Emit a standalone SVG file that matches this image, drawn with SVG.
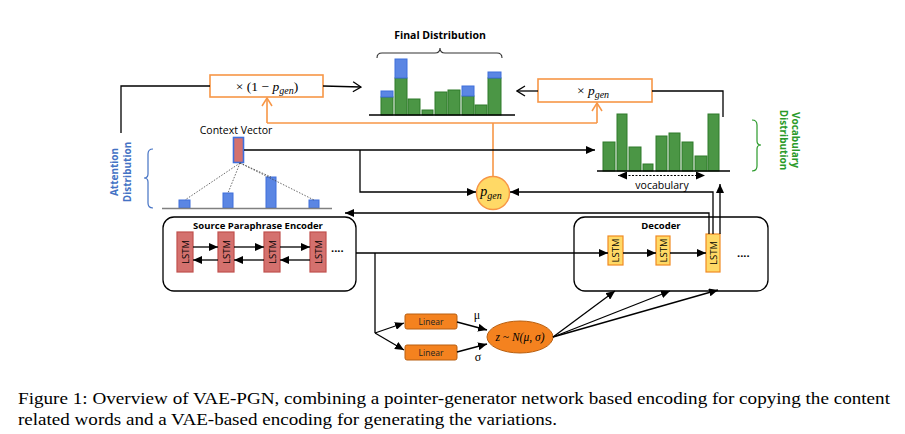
<svg xmlns="http://www.w3.org/2000/svg" width="905" height="434" viewBox="0 0 905 434">
<defs>
<marker id="tri" markerUnits="userSpaceOnUse" markerWidth="9" markerHeight="8" refX="9" refY="4" orient="auto-start-reverse"><path d="M0,0 L9,4 L0,8 z" fill="#000"/></marker>
<marker id="chev" markerUnits="userSpaceOnUse" markerWidth="10" markerHeight="12" refX="9" refY="6" orient="auto"><path d="M1,1 L9,6 L1,11" fill="none" stroke="#000" stroke-width="1.3"/></marker>
<marker id="chevo" markerUnits="userSpaceOnUse" markerWidth="10" markerHeight="12" refX="9" refY="6" orient="auto"><path d="M1,1 L9,6 L1,11" fill="none" stroke="#f79646" stroke-width="1.5"/></marker>
</defs>
<style>
.ln{fill:none;stroke:#000;stroke-width:1.3}
.or{fill:none;stroke:#f79646;stroke-width:1.6}
.g{fill:#4b9645;stroke:#2f7a2a;stroke-width:1}
.b{fill:#5b86e3;stroke:#3f6fdc;stroke-width:1}
.sans{font-family:"Open Sans","Liberation Sans",sans-serif}
.bold{font-weight:bold}
.math{font-family:"Liberation Serif","DejaVu Serif",serif}
.enc{fill:#d4716e;stroke:#c0504d;stroke-width:1.2}
.dec{fill:#ffd966;stroke:#f08a24;stroke-width:1.2}
.cell{font-family:"Open Sans","Liberation Sans",sans-serif;font-size:9.5px;fill:#000}
.lin{fill:#f4821f;stroke:#b85f10;stroke-width:1}
.box{fill:#fff;stroke:#000;stroke-width:1.3}
.obox{fill:#fff;stroke:#f79646;stroke-width:1.6}
</style>
<rect width="905" height="434" fill="#fff"/>

<g id="final-distribution">
  <text class="sans bold" x="440" y="39" font-size="10.5" text-anchor="middle">Final Distribution</text>
  <path d="M377,58 Q377,53 382,53 L435,53 Q440,53 440,48 Q440,53 445,53 L497,53 Q502,53 502,58" fill="none" stroke="#333" stroke-width="1.1"/>
  <rect class="g" x="381" y="97" width="12" height="18"/>
  <rect class="b" x="381" y="91" width="12" height="6"/>
  <rect class="g" x="395" y="78" width="12" height="37"/>
  <rect class="b" x="395" y="59" width="12" height="19"/>
  <rect class="g" x="408" y="99" width="12" height="16"/>
  <rect class="g" x="422" y="110" width="11" height="5"/>
  <rect class="g" x="435" y="92" width="12" height="23"/>
  <rect class="g" x="448" y="90" width="12" height="25"/>
  <rect class="g" x="462" y="96" width="12" height="19"/>
  <rect class="b" x="462" y="86" width="12" height="10"/>
  <rect class="g" x="475" y="105" width="12" height="10"/>
  <rect class="g" x="488" y="78" width="13" height="37"/>
  <rect class="b" x="488" y="72" width="13" height="6"/>
  <line x1="369" y1="115" x2="515" y2="115" stroke="#000" stroke-width="1.5"/>
</g>

<g id="times-one-minus-pgen">
  <rect class="obox" x="210" y="75" width="113" height="22"/>
  <text class="math" x="267" y="91" font-size="13.5" text-anchor="middle">× (1 − <tspan font-style="italic">p</tspan><tspan font-style="italic" font-size="10" dy="3">gen</tspan><tspan dy="-3">)</tspan></text>
</g>

<g id="times-pgen">
  <rect class="obox" x="538" y="79" width="114" height="23"/>
  <text class="math" x="593" y="95" font-size="13.5" text-anchor="middle">× <tspan font-style="italic">p</tspan><tspan font-style="italic" font-size="10" dy="3">gen</tspan></text>
</g>

<g id="context-vector">
  <text class="sans" x="236" y="134" font-size="10.5" text-anchor="middle">Context Vector</text>
  <rect x="233.5" y="137.5" width="10" height="25" fill="#d4716e" stroke="#3f6fdc" stroke-width="1.6"/>
</g>

<g id="attention-distribution">
  <rect class="b" x="179" y="200" width="11" height="8"/>
  <rect class="b" x="223" y="193" width="10" height="15"/>
  <rect class="b" x="266" y="177" width="10" height="31"/>
  <rect class="b" x="309" y="200" width="10" height="8"/>
  <line x1="162" y1="208.5" x2="332" y2="208.5" stroke="#808080" stroke-width="1.5"/>
  <path d="M153,149 Q148,149 148,154 L148,174 Q148,178 144,178 Q148,178 148,182 L148,203 Q148,208 153,208" fill="none" stroke="#4472c4" stroke-width="1.2"/>
  <text class="sans bold" transform="translate(118,172) rotate(-90)" font-size="10" fill="#4472c4" text-anchor="middle">Attention</text>
  <text class="sans bold" transform="translate(131,172) rotate(-90)" font-size="10" fill="#4472c4" text-anchor="middle">Distribution</text>
</g>

<g id="vocabulary-distribution">
  <rect class="g" x="603" y="142" width="12" height="29"/>
  <rect class="g" x="617" y="114" width="10" height="57"/>
  <rect class="g" x="629" y="147" width="12" height="24"/>
  <rect class="g" x="643" y="164" width="10" height="7"/>
  <rect class="g" x="656" y="136" width="11" height="35"/>
  <rect class="g" x="669" y="133" width="11" height="38"/>
  <rect class="g" x="682" y="142" width="11" height="29"/>
  <rect class="g" x="695" y="156" width="12" height="15"/>
  <rect class="g" x="708" y="114" width="11" height="57"/>
  <line x1="597" y1="171" x2="730" y2="171" stroke="#000" stroke-width="1.3"/>
  <path d="M618,175.5 L705,175.5" fill="none" stroke="#000" stroke-width="1" stroke-dasharray="2,1.5" marker-start="url(#tri)" marker-end="url(#tri)"/>
  <text class="sans" x="662" y="189" font-size="10.5" text-anchor="middle">vocabulary</text>
  <path d="M752,120 Q757,120 757,125 L757,141 Q757,145 761,145 Q757,145 757,149 L757,166 Q757,171 752,171" fill="none" stroke="#2a9a2a" stroke-width="1.2"/>
  <text class="sans bold" transform="translate(792,140) rotate(90)" font-size="10" fill="#2a9a2a" text-anchor="middle">Vocabulary</text>
  <text class="sans bold" transform="translate(780,140) rotate(90)" font-size="10" fill="#2a9a2a" text-anchor="middle">Distribution</text>
</g>

<g id="pgen">
  <circle cx="493" cy="193" r="16.5" fill="#ffd966" stroke="#f79646" stroke-width="1.5"/>
  <text class="math" x="491" y="196" font-size="14" text-anchor="middle" font-style="italic">p<tspan font-size="10" dy="3">gen</tspan></text>
</g>

<g id="encoder">
  <rect class="box" x="163" y="217" width="193" height="74" rx="11"/>
  <text class="sans bold" x="258" y="229" font-size="9.5" text-anchor="middle">Source Paraphrase Encoder</text>
  <rect class="enc" x="177" y="232" width="16" height="40"/>
  <rect class="enc" x="218" y="232" width="16" height="40"/>
  <rect class="enc" x="264" y="232" width="16" height="40"/>
  <rect class="enc" x="310" y="232" width="16" height="40"/>
  <text class="cell" transform="translate(185,252) rotate(-90)" text-anchor="middle" dominant-baseline="central">LSTM</text>
  <text class="cell" transform="translate(226,252) rotate(-90)" text-anchor="middle" dominant-baseline="central">LSTM</text>
  <text class="cell" transform="translate(272,252) rotate(-90)" text-anchor="middle" dominant-baseline="central">LSTM</text>
  <text class="cell" transform="translate(318,252) rotate(-90)" text-anchor="middle" dominant-baseline="central">LSTM</text>
  <text class="sans bold" x="331" y="255" font-size="11">····</text>
</g>

<g id="decoder">
  <rect class="box" x="574" y="217" width="194" height="74" rx="11"/>
  <text class="sans bold" x="661" y="229" font-size="9.5" text-anchor="middle">Decoder</text>
  <rect class="dec" x="608" y="236" width="15" height="29"/>
  <rect class="dec" x="656" y="236" width="14" height="29"/>
  <rect class="dec" x="706" y="234" width="14" height="38"/>
  <text class="cell" transform="translate(615.5,250.5) rotate(-90)" text-anchor="middle" dominant-baseline="central">LSTM</text>
  <text class="cell" transform="translate(663,250.5) rotate(-90)" text-anchor="middle" dominant-baseline="central">LSTM</text>
  <text class="cell" transform="translate(713,253) rotate(-90)" text-anchor="middle" dominant-baseline="central">LSTM</text>
  <text class="sans bold" x="737" y="260" font-size="11">····</text>
</g>

<g id="linear-mu">
  <rect class="lin" x="405" y="314" width="52" height="15" rx="2"/>
  <text class="sans" x="431" y="325" font-size="8.5" text-anchor="middle" fill="#222">Linear</text>
  <text class="math" x="477" y="319" font-size="12" text-anchor="middle">μ</text>
</g>

<g id="linear-sigma">
  <rect class="lin" x="405" y="345" width="52" height="15" rx="2"/>
  <text class="sans" x="431" y="356" font-size="8.5" text-anchor="middle" fill="#222">Linear</text>
  <text class="math" x="478" y="361" font-size="12" text-anchor="middle">σ</text>
</g>

<g id="latent-z">
  <ellipse cx="520" cy="337" rx="33" ry="16" fill="#f4821f" stroke="#b85f10" stroke-width="1"/>
  <text class="math" x="520" y="341" font-size="11.5" text-anchor="middle" font-style="italic">z ~ N(μ, σ)</text>
</g>

<g id="connectors">
  <path class="ln" d="M121,133 L121,86 L210,86"/>
  <path class="ln" d="M323,86 L361,87" marker-end="url(#chev)"/>
  <path class="ln" d="M538,91 L517,91" marker-end="url(#chev)"/>
  <path class="ln" d="M652,91 L723,91 L723,117"/>
  <path class="or" d="M267,123 L267,98" marker-end="url(#chevo)"/>
  <path class="or" d="M267,123 L597,123"/>
  <path class="or" d="M597,123 L597,103" marker-end="url(#chevo)"/>
  <path class="or" d="M493,123 L493,176.5"/>
  <path class="ln" d="M244,150 L595,150" marker-end="url(#tri)"/>
  <path class="ln" d="M360,150 L360,192 L476,192" marker-end="url(#tri)"/>
  <path class="ln" d="M713,234 L713,192 L510,192" marker-end="url(#tri)"/>
  <path class="ln" d="M709,234 L709,213 L345,213" marker-end="url(#tri)"/>
  <path class="ln" d="M720,234 L720,184" marker-end="url(#tri)"/>
  <g stroke="#444" stroke-width="0.8" stroke-dasharray="1.5,1.5" fill="none">
    <path d="M240,163 L185,200"/>
    <path d="M240,163 L228,193"/>
    <path d="M240,163 L271,177"/>
    <path d="M240,163 L314,200"/>
  </g>
  <path class="ln" d="M193,247 L218,247" marker-end="url(#tri)"/>
  <path class="ln" d="M234,247 L264,247" marker-end="url(#tri)"/>
  <path class="ln" d="M280,247 L310,247" marker-end="url(#tri)"/>
  <path class="ln" d="M218,260 L193,260" marker-end="url(#tri)"/>
  <path class="ln" d="M264,260 L234,260" marker-end="url(#tri)"/>
  <path class="ln" d="M310,260 L280,260" marker-end="url(#tri)"/>
  <path class="ln" d="M356,253 L608,253" marker-end="url(#tri)"/>
  <path class="ln" d="M623,253 L656,253" marker-end="url(#tri)"/>
  <path class="ln" d="M670,253 L706,253" marker-end="url(#tri)"/>
  <path class="ln" d="M375,253 L375,333"/>
  <path class="ln" d="M375,333 L404,323" marker-end="url(#tri)"/>
  <path class="ln" d="M375,333 L404,350" marker-end="url(#tri)"/>
  <path class="ln" d="M457,322 L487,330" marker-end="url(#tri)"/>
  <path class="ln" d="M457,352 L487,344" marker-end="url(#tri)"/>
  <path class="ln" d="M553,337 L615,291" marker-end="url(#tri)"/>
  <path class="ln" d="M553,337 L670,291" marker-end="url(#tri)"/>
  <path class="ln" d="M553,337 L718,290" marker-end="url(#tri)"/>
</g>

<g id="caption">
  <text class="math" x="18" y="404" font-size="17.5" textLength="872" lengthAdjust="spacingAndGlyphs">Figure 1: Overview of VAE-PGN, combining a pointer-generator network based encoding for copying the content</text>
  <text class="math" x="18" y="425" font-size="17.5" textLength="539" lengthAdjust="spacingAndGlyphs">related words and a VAE-based encoding for generating the variations.</text>
</g>
</svg>
